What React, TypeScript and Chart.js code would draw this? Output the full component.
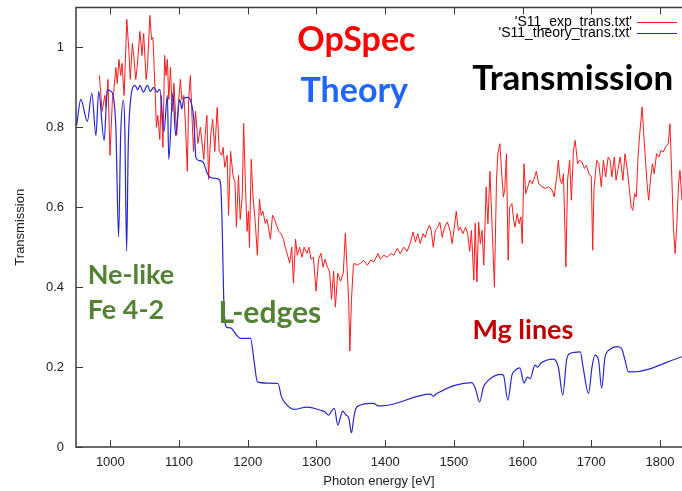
import React, { useEffect, useRef } from 'react';
import { Chart, registerables } from 'chart.js';

Chart.register(...registerables);

const expLabel = "'S11_exp_trans.txt'";
const theoryLabel = "'S11_theory_trans.txt'";

const expEnergy = [
  984, 988, 992, 994, 996.5, 999.5, 1003, 1005, 1008, 1010, 1012.5, 1015, 1017, 1020, 1024, 1027, 1029, 1032, 1034, 1037,
  1039, 1043, 1046, 1048.5, 1052, 1054, 1057.5, 1060, 1062, 1065, 1067, 1069, 1072, 1074, 1076.5, 1079, 1081, 1083, 1085, 1087.5,
  1090, 1092.5, 1096.5, 1099, 1102, 1104, 1107, 1109.5, 1112, 1114, 1116.5, 1119, 1121, 1124, 1127.5, 1131, 1136, 1138, 1140.5, 1143,
  1146, 1149, 1152, 1155.5, 1158.5, 1162, 1164, 1166.5, 1170, 1172, 1175, 1178.5, 1181.5, 1183.5, 1186.5, 1189, 1192, 1194, 1196.5, 1199,
  1201, 1202.5, 1205, 1207.5, 1211, 1214, 1217, 1219.5, 1222, 1225.5, 1228, 1230, 1233, 1236, 1239, 1242, 1245, 1248, 1252, 1254.5,
  1258, 1261, 1264, 1266.5, 1269.5, 1272, 1275.5, 1279, 1282, 1286, 1289, 1292, 1295.5, 1299.5, 1303, 1306.5, 1309.5, 1312.5, 1316, 1319,
  1322, 1325, 1327.5, 1331, 1335, 1339, 1342, 1344.5, 1347, 1348.5, 1351, 1353.5, 1355, 1359, 1364, 1369, 1374, 1379, 1383.5, 1389.5,
  1393, 1398, 1403, 1408, 1412.5, 1417.5, 1422, 1427, 1432, 1436.5, 1440.5, 1444, 1447.5, 1451, 1455, 1458.5, 1461, 1464.5, 1467, 1470,
  1473, 1476.5, 1479.5, 1483, 1486.5, 1490.5, 1494.5, 1497.5, 1500, 1503.5, 1506.5, 1509.5, 1513, 1517, 1520, 1523, 1525.5, 1529, 1531, 1533.5,
  1536, 1538.5, 1541, 1543.5, 1547, 1549.5, 1552.5, 1556, 1559, 1562, 1564, 1567, 1569.5, 1572, 1574, 1576.5, 1579, 1581, 1584.5, 1587,
  1589, 1592, 1595, 1597.5, 1599.5, 1602, 1604.5, 1607.5, 1610.5, 1614, 1617.5, 1620, 1623.5, 1628.5, 1633, 1638, 1643, 1646, 1650, 1652,
  1654.5, 1657, 1659.5, 1663, 1665.5, 1668.5, 1671, 1674, 1676.5, 1680, 1683, 1686.5, 1690, 1693, 1696.5, 1700, 1702, 1704, 1708, 1711,
  1714.5, 1717.5, 1721, 1724.5, 1727.5, 1730, 1733.5, 1736, 1738.5, 1742, 1746, 1749, 1752.5, 1755.5, 1758, 1760.5, 1763, 1765.5, 1768, 1770.5,
  1774, 1776, 1778.5, 1781.5, 1783.5, 1786.5, 1789, 1791.5, 1795, 1798.5, 1801.5, 1804.5, 1808, 1812, 1814.5, 1817, 1819.5, 1822, 1824.5, 1827,
  1829, 1832, 1834,
];

const expTrans = [
  0.93, 0.84, 0.88, 0.85, 0.92, 0.73, 0.87, 0.89, 0.95, 0.91, 0.97, 0.93, 0.96, 0.88, 1.07, 0.99, 0.92, 1.01, 0.98, 0.92,
  0.95, 1.04, 0.98, 1.035, 0.92, 0.95, 1.08, 1.02, 1.025, 0.9, 0.8, 0.83, 0.77, 0.88, 0.75, 0.98, 0.93, 0.97, 0.87, 0.95,
  0.84, 0.91, 0.78, 0.86, 0.92, 0.87, 0.88, 0.8, 0.69, 0.87, 0.93, 0.82, 0.74, 0.84, 0.76, 0.8, 0.72, 0.78, 0.83, 0.67,
  0.78, 0.82, 0.74, 0.85, 0.74, 0.73, 0.75, 0.7, 0.73, 0.58, 0.74, 0.68, 0.66, 0.55, 0.68, 0.57, 0.63, 0.81, 0.66, 0.54,
  0.59, 0.5, 0.72, 0.63, 0.56, 0.48, 0.62, 0.58, 0.59, 0.56, 0.57, 0.55, 0.52, 0.58, 0.57, 0.555, 0.54, 0.535, 0.52, 0.5,
  0.48, 0.46, 0.5, 0.41, 0.52, 0.48, 0.5, 0.475, 0.5, 0.485, 0.5, 0.47, 0.475, 0.39, 0.47, 0.485, 0.45, 0.47, 0.45, 0.44,
  0.37, 0.44, 0.35, 0.435, 0.415, 0.435, 0.535, 0.45, 0.36, 0.24, 0.37, 0.45, 0.46, 0.455, 0.46, 0.467, 0.455, 0.468, 0.463, 0.484,
  0.47, 0.48, 0.475, 0.484, 0.48, 0.497, 0.484, 0.5, 0.49, 0.51, 0.538, 0.513, 0.534, 0.509, 0.534, 0.525, 0.542, 0.555, 0.542, 0.5,
  0.542, 0.55, 0.563, 0.525, 0.55, 0.563, 0.542, 0.509, 0.542, 0.59, 0.542, 0.55, 0.534, 0.55, 0.534, 0.49, 0.542, 0.4175, 0.56, 0.413,
  0.563, 0.509, 0.542, 0.455, 0.651, 0.559, 0.69, 0.534, 0.4, 0.668, 0.734, 0.759, 0.684, 0.626, 0.643, 0.734, 0.4675, 0.6, 0.609, 0.5675,
  0.55, 0.584, 0.559, 0.576, 0.509, 0.709, 0.634, 0.651, 0.668, 0.659, 0.676, 0.69, 0.659, 0.651, 0.647, 0.651, 0.643, 0.626, 0.68, 0.7175,
  0.671, 0.659, 0.684, 0.451, 0.668, 0.7175, 0.6175, 0.7425, 0.7675, 0.709, 0.7175, 0.713, 0.697, 0.705, 0.684, 0.676, 0.4925, 0.651, 0.7175, 0.709,
  0.651, 0.7175, 0.676, 0.726, 0.7175, 0.676, 0.726, 0.6675, 0.6925, 0.726, 0.6675, 0.734, 0.6925, 0.6425, 0.601, 0.5925, 0.634, 0.626, 0.726, 0.784,
  0.851, 0.792, 0.726, 0.651, 0.6175, 0.676, 0.709, 0.684, 0.734, 0.726, 0.7425, 0.738, 0.751, 0.759, 0.809, 0.684, 0.55, 0.484, 0.559, 0.659,
  0.6925, 0.6175, 0.55,
];

const theoryEnergy = [
  951, 957, 966.5, 973, 979, 983, 991, 995.5, 1001, 1004, 1008, 1012, 1015, 1019, 1021, 1023.7, 1026, 1029, 1035.8, 1040,
  1043, 1048, 1054, 1058, 1063, 1068, 1072, 1078, 1083, 1085, 1091, 1095, 1101, 1104, 1107, 1113, 1118, 1121.5, 1124.5, 1129,
  1135, 1141, 1145, 1150, 1155, 1159, 1161, 1163, 1165, 1169, 1175, 1182, 1189, 1204, 1209, 1214, 1228, 1244, 1249, 1255,
  1267, 1286, 1306, 1312, 1318, 1322, 1326, 1331, 1335, 1338, 1343, 1347, 1351, 1354, 1357, 1364, 1378, 1383, 1390, 1395,
  1466, 1470, 1475, 1526, 1531, 1537.5, 1543, 1549, 1567.5, 1572, 1578.5, 1584.5, 1588, 1596, 1602, 1607, 1611, 1618, 1622, 1626,
  1645, 1652, 1658.5, 1664, 1669, 1684, 1688, 1696, 1701, 1705.5, 1710.5, 1715, 1720, 1727, 1737, 1744, 1749, 1754, 1760, 1832,
];

const theoryTrans = [
  0.805, 0.87, 0.815, 0.886, 0.78, 0.89, 0.767, 0.894, 0.89, 0.88, 0.8, 0.526, 0.78, 0.868, 0.8, 0.49, 0.75, 0.86, 0.905, 0.894,
  0.905, 0.888, 0.905, 0.89, 0.9, 0.888, 0.895, 0.79, 0.88, 0.72, 0.885, 0.78, 0.87, 0.846, 0.873, 0.875, 0.86, 0.82, 0.725, 0.717,
  0.713, 0.685, 0.675, 0.673, 0.672, 0.668, 0.645, 0.535, 0.37, 0.3, 0.298, 0.284, 0.272, 0.272, 0.2175, 0.163, 0.16, 0.159, 0.126, 0.109,
  0.094, 0.1, 0.092, 0.088, 0.08, 0.09, 0.097, 0.055, 0.075, 0.09, 0.08, 0.073, 0.035, 0.07, 0.095, 0.105, 0.109, 0.109, 0.103, 0.103,
  0.1325, 0.127, 0.134, 0.161, 0.148, 0.113, 0.15, 0.165, 0.182, 0.18, 0.1175, 0.18, 0.19, 0.198, 0.16, 0.175, 0.171, 0.205, 0.2, 0.209,
  0.22, 0.2, 0.13, 0.2175, 0.234, 0.238, 0.2, 0.134, 0.2, 0.23, 0.2175, 0.147, 0.225, 0.244, 0.251, 0.247, 0.2175, 0.188, 0.188, 0.226,
];

const xTickValues = [1000, 1100, 1200, 1300, 1400, 1500, 1600, 1700, 1800];
const yTickValues = [0, 0.2, 0.4, 0.6, 0.8, 1];
const yTickLabels = ['0', '0.2', '0.4', '0.6', '0.8', '1'];

const xTitle = 'Photon energy [eV]';
const yTitle = 'Transmission';

const noteTexts = ['OpSpec', 'Theory', 'Transmission', 'Ne-like', 'Fe 4-2', 'L-edges', 'Mg lines'];
const noteAnchorsE = [1272, 1276.7, 1526.8, 967, 967, 1157.5, 1527];
const noteAnchorsT = [1.0175, 0.89, 0.9225, 0.43, 0.3425, 0.335, 0.2925];

const noteStyles = [
  { color: '#ff0000', size: 34 },
  { color: '#1f66ff', size: 34 },
  { color: '#000000', size: 35 },
  { color: '#548235', size: 27 },
  { color: '#548235', size: 27 },
  { color: '#548235', size: 30 },
  { color: '#c00000', size: 27 },
];

const TICK_FONT = "'Liberation Sans', Arial, sans-serif";
const NOTE_FONT = "Lato, 'Open Sans', sans-serif";

const decorPlugin = {
  id: 'decor',
  afterDatasetsDraw(chart: any) {
    const { ctx, chartArea, scales } = chart;
    const xs = scales.x;
    const ys = scales.y;
    ctx.save();
    // frame
    ctx.strokeStyle = '#3a3a3a';
    ctx.lineWidth = 1.5;
    ctx.beginPath();
    ctx.moveTo(chartArea.right + 2, chartArea.top);
    ctx.lineTo(chartArea.left, chartArea.top);
    ctx.lineTo(chartArea.left, chartArea.bottom);
    ctx.lineTo(chartArea.right + 2, chartArea.bottom);
    ctx.stroke();
    // inward ticks
    ctx.lineWidth = 1;
    ctx.beginPath();
    xTickValues.forEach((v) => {
      const px = Math.round(xs.getPixelForValue(v)) + 0.5;
      ctx.moveTo(px, chartArea.bottom);
      ctx.lineTo(px, chartArea.bottom - 7);
      ctx.moveTo(px, chartArea.top);
      ctx.lineTo(px, chartArea.top + 7);
    });
    yTickValues.forEach((v) => {
      const py = Math.round(ys.getPixelForValue(v)) + 0.5;
      ctx.moveTo(chartArea.left, py);
      ctx.lineTo(chartArea.left + 7, py);
    });
    ctx.stroke();

    // legend (gnuplot style)
    const ds = chart.data.datasets;
    ctx.font = `14px ${TICK_FONT}`;
    ctx.textAlign = 'right';
    ctx.textBaseline = 'middle';
    ds.forEach((d: any, i: number) => {
      const y = Math.round(chartArea.top + 14 + i * 11.5);
      ctx.fillStyle = '#000';
      ctx.fillText(d.label, chartArea.right - 50, y);
      ctx.strokeStyle = d.borderColor;
      ctx.lineWidth = 1;
      ctx.beginPath();
      ctx.moveTo(chartArea.right - 45, y + 0.5);
      ctx.lineTo(chartArea.right - 5, y + 0.5);
      ctx.stroke();
    });

    // annotations
    ctx.textAlign = 'left';
    ctx.textBaseline = 'middle';
    noteTexts.forEach((t, i) => {
      const st = noteStyles[i];
      ctx.font = `bold ${st.size}px ${NOTE_FONT}`;
      ctx.fillStyle = st.color;
      ctx.fillText(t, xs.getPixelForValue(noteAnchorsE[i]), ys.getPixelForValue(noteAnchorsT[i]));
    });
    ctx.restore();
  },
};

export default function App() {
  const canvasRef = useRef<HTMLCanvasElement | null>(null);

  useEffect(() => {
    const canvas = canvasRef.current;
    if (!canvas) return;
    const chart = new Chart(canvas, {
      type: 'line',
      data: {
        datasets: [
          {
            label: expLabel,
            data: expEnergy.map((x, i) => ({ x, y: expTrans[i] })),
            borderColor: '#ff1a1a',
            borderWidth: 1,
            pointRadius: 0,
            tension: 0,
            order: 1,
          },
          {
            label: theoryLabel,
            data: theoryEnergy.map((x, i) => ({ x, y: theoryTrans[i] })),
            borderColor: '#2626d6',
            borderWidth: 1.2,
            pointRadius: 0,
            cubicInterpolationMode: 'monotone',
            order: 0,
          },
        ],
      } as any,
      options: {
        animation: false,
        responsive: false,
        devicePixelRatio: 1,
        layout: { padding: { top: 7.5, right: 0, bottom: 2, left: 0 } },
        plugins: { legend: { display: false }, tooltip: { enabled: false } },
        scales: {
          x: {
            type: 'linear',
            min: 950,
            max: 1832,
            grid: { display: false, drawTicks: false },
            border: { display: false },
            afterBuildTicks: (s: any) => {
              s.ticks = xTickValues.map((v) => ({ value: v }));
            },
            afterFit: (s: any) => {
              s.height = 42;
              s.paddingLeft = 0;
              s.paddingRight = 0;
            },
            ticks: {
              padding: 8,
              color: '#222',
              font: { family: TICK_FONT, size: 13 },
              maxRotation: 0,
              callback: (v: any) => String(v),
            },
            title: {
              display: true,
              text: xTitle,
              color: '#222',
              font: { family: TICK_FONT, size: 13 },
              padding: { top: 0, bottom: 0 },
            },
          },
          y: {
            type: 'linear',
            min: 0,
            max: 1.1,
            grid: { display: false, drawTicks: false },
            border: { display: false },
            afterBuildTicks: (s: any) => {
              s.ticks = yTickValues.map((v) => ({ value: v }));
            },
            afterFit: (s: any) => {
              s.width = 76;
              s.paddingTop = 0;
              s.paddingBottom = 0;
            },
            ticks: {
              padding: 12,
              color: '#222',
              font: { family: TICK_FONT, size: 13 },
              callback: (v: any) => {
                const idx = yTickValues.indexOf(v);
                return idx >= 0 ? yTickLabels[idx] : '';
              },
            },
            title: {
              display: true,
              text: yTitle,
              color: '#222',
              font: { family: TICK_FONT, size: 13 },
              padding: { top: 13, bottom: 0 },
            },
          },
        },
      } as any,
      plugins: [decorPlugin],
    });
    return () => chart.destroy();
  }, []);

  return (
    <div style={{ position: 'fixed', left: 0, top: 0, width: 682, height: 491, background: '#fff' }}>
      <canvas ref={canvasRef} width={682} height={491} style={{ display: 'block' }} />
    </div>
  );
}
